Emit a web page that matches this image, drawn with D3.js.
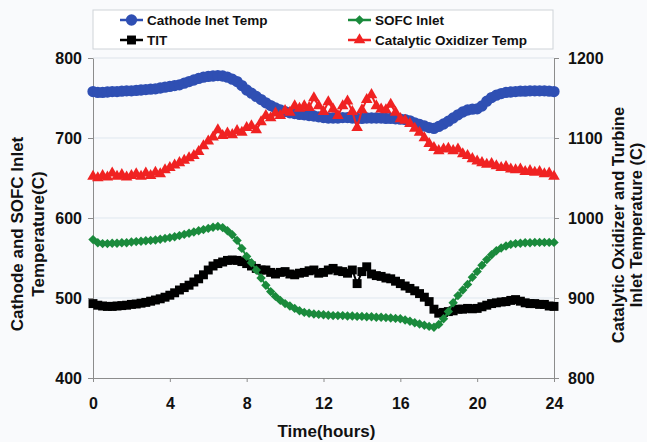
<!DOCTYPE html>
<html>
<head>
<meta charset="utf-8">
<script src="https://cdn.jsdelivr.net/npm/d3@7"></script>
<style>
  body { margin: 0; background: #f9fafc; }
  svg { font-family: "Liberation Sans", Arial, sans-serif; font-weight: bold; }
</style>
</head>
<body>
<div id="chart"></div>
<script>
// one reading every quarter hour, 0 .. 24 h
var hours = d3.range(97).map(function(i){ return i / 4; });

// Cathode inlet temp (left axis)
var cathode = [
  758, 757, 757, 757.5,   758, 758, 758.5, 759,   759, 759.5, 760, 760.5,
  761, 761.5, 762.5, 763.5,   764.5, 765.5, 766.5, 768.5,   770.5, 772.5, 774.5, 776,
  777, 777.5, 778, 777.5,   776, 773.5, 770.5, 765.5,   760, 756, 752, 748,
  744, 740.5, 737.5, 735,   733, 731.5, 730.5, 729.5,   729, 728, 727.5, 726.5,
  725.5, 725, 725, 725,   725.5, 725.5, 725, 724.5,   724.5, 725, 725, 725,
  725, 724.5, 724.5, 724,   723.5, 723, 721.5, 719,   717, 715, 713, 712,
  714.5, 717.5, 721, 725,   729, 732.5, 735, 736,   736.5, 740, 746, 750.5,
  753.5, 755.5, 757, 757.5,   758, 758.5, 758.5, 759,   759, 759, 759, 758.5,
  758
];

// SOFC inlet (left axis)
var sofc = [
  573, 569, 568, 568,   568.5, 568.5, 569, 569,   570, 570.5, 571, 571.5,
  572, 572.5, 573.5, 574.5,   575.5, 576.5, 578, 579.5,   581, 582.5, 584, 585.5,
  587, 588.5, 589.5, 588,   584, 579, 572, 562,   552, 544, 535, 525,
  516, 508, 502, 497,   493, 490, 487, 484,   482, 481, 480, 479.5,
  479, 478.5, 478, 478,   478, 477.5, 477.5, 477,   477, 476.5, 476.5, 476,
  476, 475.5, 475, 474.5,   474, 472.5, 471, 469,   467.5, 466, 464.5, 463.5,
  467, 474, 483, 494,   503, 510, 517, 526,   533, 541, 548, 554,
  559, 562.5, 565, 567,   568, 568.5, 569, 569,   569.5, 569.5, 569.5, 569.5,
  569.5
];

// TIT (right axis)
var tit = [
  893, 891, 890, 889.5,   889.5, 890, 890.5, 891,   892, 892.5, 893.5, 894.5,
  896, 897.5, 899, 901,   903.5, 906.5, 910, 913,   916, 920, 924, 929,
  935, 940, 943, 945,   947, 947.5, 947, 945.5,   943, 940, 937, 935,
  935, 932, 930, 932,   933, 930, 929, 931,   932, 934, 935, 931,
  932, 935, 937, 934,   933, 931, 935, 918,   933, 939, 930, 928,
  927, 925, 924, 921,   918, 915, 912, 909,   905.5, 901, 895.5, 886,
  881, 882, 883, 884,   886, 886, 887, 886.5,   887, 889, 891, 893,
  894, 895, 895.5, 897,   898, 896, 894, 893,   893, 892, 892, 890,
  889.5
];

// Catalytic oxidizer temp (right axis)
var catox = [
  1052, 1050, 1053, 1051,   1056, 1052, 1054, 1051,   1053, 1055, 1052, 1056,
  1053, 1057, 1055, 1060,   1063, 1066, 1069, 1072,   1075, 1078, 1083, 1090,
  1096, 1101, 1110, 1103,   1106, 1104, 1109, 1107,   1113, 1115, 1110, 1120,
  1128, 1125, 1131, 1128,   1134, 1132, 1140, 1137,   1140, 1138, 1150, 1140,
  1133, 1145, 1136, 1128,   1140, 1146, 1133, 1113,   1135, 1148, 1154, 1140,
  1136, 1135, 1142, 1132,   1124, 1122, 1118, 1112,   1107, 1100, 1093, 1088,
  1084, 1086, 1087, 1084,   1086, 1080, 1078, 1074,   1071, 1069, 1067, 1068,
  1065, 1063, 1064, 1061,   1060, 1061, 1058, 1059,   1057, 1058, 1055, 1056,
  1052
];

var xTicks = [0, 4, 8, 12, 16, 20, 24];
var leftTicks = [400, 500, 600, 700, 800];
var rightTicks = [800, 900, 1000, 1100, 1200];
var seriesNames = ["Cathode Inet Temp", "SOFC Inlet", "TIT", "Catalytic Oxidizer Temp"];

var width = 647, height = 442;
var plot = {left: 93, right: 554, top: 58, bottom: 378};

var svg = d3.select("#chart").append("svg")
  .attr("width", width)
  .attr("height", height);

var x = d3.scaleLinear().domain([0, 24]).range([plot.left, plot.right]);
var yL = d3.scaleLinear().domain([400, 800]).range([plot.bottom, plot.top]);
var yR = d3.scaleLinear().domain([800, 1200]).range([plot.bottom, plot.top]);

// gridlines
svg.append("g").selectAll("line")
  .data([500, 600, 700])
  .enter().append("line")
    .attr("x1", plot.left).attr("x2", plot.right)
    .attr("y1", function(d){ return yL(d); })
    .attr("y2", function(d){ return yL(d); })
    .attr("stroke", "#dfe7ef")
    .attr("stroke-width", 1);

svg.append("line")
  .attr("x1", plot.left).attr("x2", plot.right)
  .attr("y1", plot.top).attr("y2", plot.top)
  .attr("stroke", "#dde3ea");

// axes
function styleAxis(g, size){
  g.selectAll("path, line").attr("stroke", "#8c8c8c");
  g.selectAll("text")
    .attr("fill", "#111")
    .style("font-size", size + "px")
    .style("font-weight", "bold");
}

svg.append("g")
  .attr("transform", "translate(" + plot.left + ",0)")
  .call(d3.axisLeft(yL).tickValues(leftTicks).tickFormat(d3.format("d"))
    .tickSize(5).tickPadding(6).tickSizeOuter(0))
  .call(styleAxis, 16);

svg.append("g")
  .attr("transform", "translate(" + plot.right + ",0)")
  .call(d3.axisRight(yR).tickValues(rightTicks).tickFormat(d3.format("d"))
    .tickSize(5).tickPadding(9).tickSizeOuter(0))
  .call(styleAxis, 16);

svg.append("g")
  .attr("transform", "translate(0," + plot.bottom + ")")
  .call(d3.axisBottom(x).tickValues(xTicks).tickSize(4).tickPadding(16).tickSizeOuter(0))
  .call(styleAxis, 16);

// series
var series = [
  {name: seriesNames[0], values: cathode, y: yL, color: "#2f4fb3", shape: "circle"},
  {name: seriesNames[2], values: tit, y: yR, color: "#000000", shape: "square"},
  {name: seriesNames[1], values: sofc, y: yL, color: "#1a8a3c", shape: "diamond"},
  {name: seriesNames[3], values: catox, y: yR, color: "#f02222", shape: "triangle"}
];

function symbolPath(shape){
  if (shape === "circle") return d3.symbol().type(d3.symbolCircle).size(100)();
  if (shape === "square") return d3.symbol().type(d3.symbolSquare).size(80)();
  if (shape === "diamond") return d3.symbol().type(d3.symbolSquare).size(44)();
  return d3.symbol().type(d3.symbolTriangle).size(58)();
}
function symbolRot(shape){ return shape === "diamond" ? " rotate(45)" : ""; }

series.forEach(function(s){
  var line = d3.line()
    .x(function(d, i){ return x(hours[i]); })
    .y(function(d){ return s.y(d); });
  var g = svg.append("g");
  g.append("path")
    .datum(s.values)
    .attr("d", line)
    .attr("fill", "none")
    .attr("stroke", s.color)
    .attr("stroke-width", 2);
  g.selectAll("path.mk")
    .data(s.values)
    .enter().append("path")
      .attr("class", "mk")
      .attr("d", symbolPath(s.shape))
      .attr("transform", function(d, i){
        return "translate(" + x(hours[i]) + "," + s.y(d) + ")" + symbolRot(s.shape);
      })
      .attr("fill", s.color);
});

// legend
svg.append("rect")
  .attr("x", 93).attr("y", 10)
  .attr("width", 460).attr("height", 39)
  .attr("fill", "#ffffff")
  .attr("stroke", "#cfd3d8");

var legendItems = [
  {name: seriesNames[0], color: "#2f4fb3", shape: "circle", lx: 120, ly: 20},
  {name: seriesNames[1], color: "#1a8a3c", shape: "diamond", lx: 348, ly: 20},
  {name: seriesNames[2], color: "#000000", shape: "square", lx: 120, ly: 40},
  {name: seriesNames[3], color: "#f02222", shape: "triangle", lx: 348, ly: 40}
];
var lg = svg.append("g").selectAll("g")
  .data(legendItems)
  .enter().append("g")
    .attr("transform", function(d){ return "translate(" + d.lx + "," + d.ly + ")"; });
lg.append("line")
  .attr("x1", 0).attr("x2", 23)
  .attr("stroke", function(d){ return d.color; })
  .attr("stroke-width", 2.5);
lg.append("path")
  .attr("d", function(d){ return symbolPath(d.shape); })
  .attr("transform", function(d){ return "translate(11.5,0)" + symbolRot(d.shape); })
  .attr("fill", function(d){ return d.color; });
lg.append("text")
  .attr("x", 27).attr("dy", "0.36em")
  .style("font-size", "13.5px")
  .attr("fill", "#111")
  .text(function(d){ return d.name; });

// axis titles
svg.append("text")
  .attr("x", (plot.left + plot.right) / 2 + 3)
  .attr("y", 437)
  .attr("text-anchor", "middle")
  .style("font-size", "17px")
  .attr("fill", "#111")
  .text("Time(hours)");

var leftTitle = svg.append("text")
  .attr("transform", "translate(0,234) rotate(-90)")
  .attr("text-anchor", "middle")
  .style("font-size", "17px")
  .attr("fill", "#111");
leftTitle.append("tspan").attr("x", 0).attr("y", 23).text("Cathode  and SOFC Inlet");
leftTitle.append("tspan").attr("x", 0).attr("y", 44).text("Temperature(C)");

var rightTitle = svg.append("text")
  .attr("transform", "translate(0,225) rotate(-90)")
  .attr("text-anchor", "middle")
  .style("font-size", "16.5px")
  .attr("fill", "#111");
rightTitle.append("tspan").attr("x", 0).attr("y", 624).text("Catalytic Oxidizer and Turbine");
rightTitle.append("tspan").attr("x", 0).attr("y", 642).text("Inlet Temperature (C)");
</script>
</body>
</html>
